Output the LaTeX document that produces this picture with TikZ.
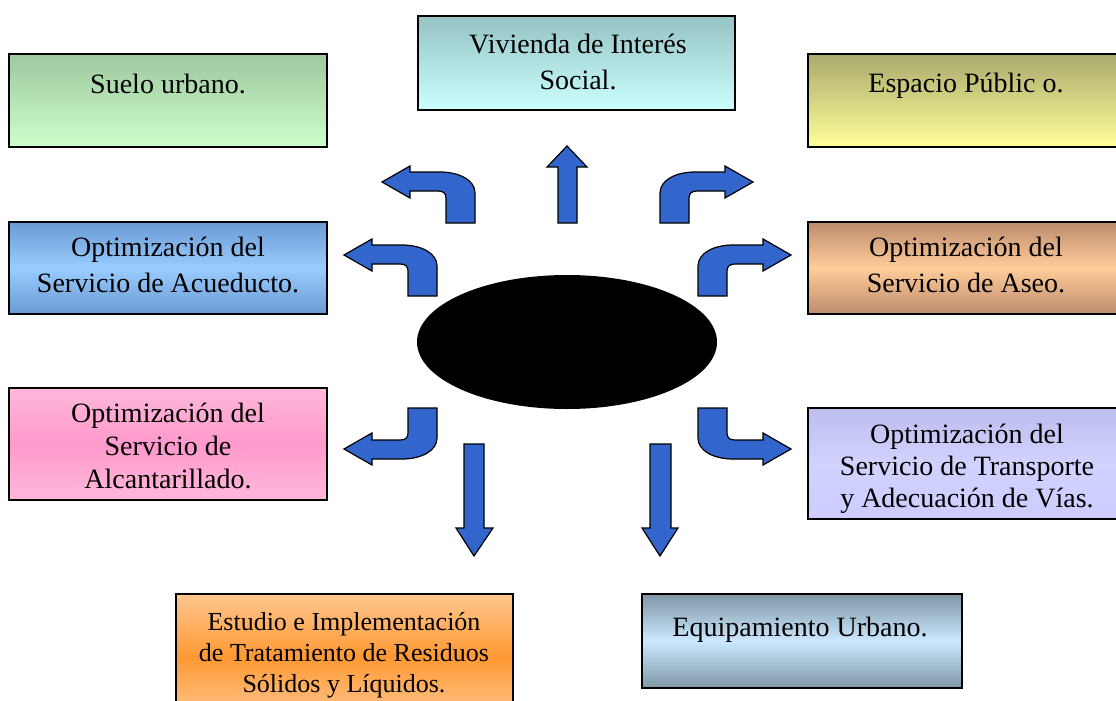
\documentclass[tikz,border=0pt]{standalone}
\usepackage{fontspec}
\setmainfont{Liberation Serif}
\usetikzlibrary{shapes.geometric}
\definecolor{arrblue}{HTML}{3366CC}
\definecolor{sueloT}{HTML}{9FC89F}\definecolor{sueloB}{HTML}{CCFFCC}
\definecolor{vivT}{HTML}{96C3C3}\definecolor{vivB}{HTML}{CCFFFF}
\definecolor{espT}{HTML}{AAAA6E}\definecolor{espB}{HTML}{FFFF99}
\definecolor{acuE}{HTML}{6A9AD2}\definecolor{acuM}{HTML}{99CCFF}
\definecolor{aseE}{HTML}{BE8C6E}\definecolor{aseM}{HTML}{FFCC99}
\definecolor{alcE}{HTML}{FFB8DA}\definecolor{alcM}{HTML}{FF99CC}
\definecolor{traT}{HTML}{BDBDEE}\definecolor{traM}{HTML}{D2D2FF}\definecolor{traB}{HTML}{CCCCFF}
\definecolor{resE}{HTML}{FFC690}\definecolor{resM}{HTML}{FF9933}
\definecolor{eqE}{HTML}{7F97A6}\definecolor{eqM}{HTML}{CCE8FF}
\tikzset{
  box/.style={draw=black, line width=1pt, rectangle, inner sep=0pt},
  txt/.style={align=center, inner sep=0pt, font=\fontsize{21}{27}\selectfont},
  blockarrow/.style={draw=black, line width=0.9pt, fill=arrblue, line join=miter},
  bent/.pic={
    \path[blockarrow] (0,0) -- (0,-30) .. controls (0,-43) and (-16,-51) .. (-35,-51)
      -- (-65,-51) -- (-65,-57) -- (-93,-41) -- (-65,-25) -- (-65,-32) -- (-37,-32)
      .. controls (-32,-32) and (-29,-30) .. (-29,-25) -- (-29,0) -- cycle;
  }
}
\begin{document}
\begin{tikzpicture}[x=0.75pt,y=-0.75pt]
\useasboundingbox (0,0) rectangle (1116,700);
% boxes
\node[box, top color=sueloT, bottom color=sueloB, minimum width=238.5pt, minimum height=69.75pt] (suelo) at (168,100.5) {};
\node[box, top color=vivT, bottom color=vivB, minimum width=237.75pt, minimum height=70.5pt] (vivienda) at (576.5,63) {};
\node[box, top color=espT, bottom color=espB, minimum width=238.5pt, minimum height=69.75pt] (espacio) at (967,100.5) {};
\node[box, top color=acuE, bottom color=acuE, middle color=acuM, minimum width=238.5pt, minimum height=69pt] (acueducto) at (168,268) {};
\node[box, top color=aseE, bottom color=aseE, middle color=aseM, minimum width=238.5pt, minimum height=69pt] (aseo) at (967,268) {};
\node[box, top color=alcE, bottom color=alcE, middle color=alcM, minimum width=238.5pt, minimum height=84pt] (alcant) at (168,444) {};
\node[box, top color=traT, bottom color=traB, middle color=traM, minimum width=238.5pt, minimum height=83.25pt] (transp) at (967,463.5) {};
\node[box, top color=resE, bottom color=resE, middle color=resM, minimum width=252.75pt, minimum height=94.5pt] (residuos) at (344.5,657) {};
\node[box, top color=eqE, bottom color=eqE, middle color=eqM, minimum width=240pt, minimum height=70.5pt] (equip) at (802,641) {};
% texts
\node[txt] (suelo-t) at (168,84) {Suelo urbano.};
\node[txt] (vivienda-t) at (578,62) {Vivienda de Interés\\Social.};
\node[txt] (espacio-t) at (966,86) {Espacio Públic o.};
\node[txt] (acueducto-t) at (168,265) {Optimización del\\Servicio de Acueducto.};
\node[txt] (aseo-t) at (966,265) {Optimización del\\Servicio de Aseo.};
\node[txt, font=\fontsize{21}{25}\selectfont] (alcant-t) at (168,446) {Optimización del\\Servicio de\\Alcantarillado.};
\node[txt, font=\fontsize{21}{23.8}\selectfont] (transp-t) at (967,469) {Optimización del\\Servicio de Transporte\\y Adecuación de Vías.};
\node[txt, font=\fontsize{19.5}{23.4}\selectfont] (residuos-t) at (344,655) {Estudio e Implementación\\de Tratamiento de Residuos\\Sólidos y Líquidos.};
\node[txt] (equip-t) at (800,630) {Equipamiento Urbano.};
% centre
\node[ellipse, fill=black, minimum width=225pt, minimum height=100.5pt, inner sep=0pt] (core) at (567,342) {};
% arrows
\path[blockarrow] (558,223) -- (558,167) -- (547,167) -- (567,146) -- (587,167) -- (577,167) -- (577,223) -- cycle;
\path[blockarrow] (464,444) -- (464,528) -- (456,528) -- (474,556) -- (493,528) -- (484,528) -- (484,444) -- cycle;
\path[blockarrow] (650,444) -- (650,528) -- (642,528) -- (660,556) -- (678,528) -- (671,528) -- (671,444) -- cycle;
\pic at (475,223) {bent};
\pic at (437,296) {bent};
\pic[xscale=-1] at (660,223) {bent};
\pic[xscale=-1] at (698,296) {bent};
\pic[yscale=-1] at (437,408) {bent};
\pic[xscale=-1,yscale=-1] at (698,408) {bent};
\end{tikzpicture}
\end{document}
